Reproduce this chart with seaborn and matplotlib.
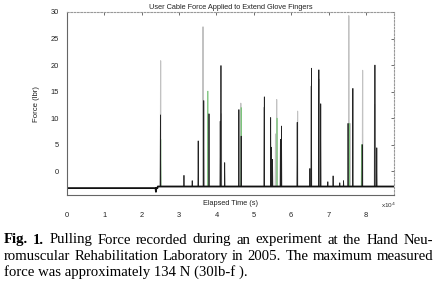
import numpy as np
import pandas as pd
import seaborn as sns
import matplotlib
matplotlib.use("Agg")
import matplotlib.pyplot as plt

# ---------------- data (time in units of 10^4 s, force in lbf) ----------------
title = "User Cable Force Applied to Extend Glove Fingers"
x_label = "Elapsed Time (s)"
y_label = "Force (lbr)"
x_ticks = [0, 1, 2, 3, 4, 5, 6, 7, 8]
y_ticks = [0, 5, 10, 15, 20, 25, 30]

baseline_pre = -3.2      # before the glove was loaded
baseline_post = -2.9     # after
step_time = 2.42
dip_time = 2.38
dip_value = -3.9

black_times = [2.50, 3.13, 3.35, 3.51, 3.66, 3.80, 4.10, 4.12, 4.22, 4.60, 4.66,
               5.28, 5.45, 5.47, 5.50, 5.71, 5.74, 6.16, 6.50, 6.54, 6.74, 6.79,
               6.98, 7.12, 7.30, 7.40, 7.52, 7.65, 7.90, 8.24, 8.29]
black_peaks = [10.6, -0.8, -1.8, 5.7, 13.3, 10.8, 9.4, 19.9, 1.6, 11.6, 6.6,
               14.0, 10.1, 4.5, 2.2, 6.0, 8.5, 9.2, 0.5, 19.4, 19.1, 12.7,
               -2.0, -0.9, -2.2, -1.8, 9.0, 15.6, 5.0, 20.0, 4.4]

gray_times = [2.505, 3.64, 3.78, 4.13, 4.65, 5.27, 5.58, 5.61, 6.17, 6.53, 6.75,
              7.54, 7.57, 7.91, 8.23]
gray_peaks = [20.8, 27.2, 10.8, 10.8, 12.8, 12.0, 7.0, 13.5, 11.3, 16.0, 17.3,
              29.3, 9.0, 19.0, 12.6]

green_times = [2.51, 3.77, 4.66, 5.62, 7.55, 7.88]
green_peaks = [6.0, 15.1, 12.0, 10.0, 9.0, 5.0]

caption_bold = "Fig. 1."
caption_line1 = "Pulling Force recorded during an experiment at the Hand Neu-"
caption_line2 = "romuscular Rehabilitation Laboratory in 2005. The maximum measured"
caption_line3 = "force was approximately 134 N (30lb-f )."


def spike_trace(times, peaks, base, half_width=0.008):
    xs, ys = [], []
    for t, p in sorted(zip(times, peaks)):
        xs += [t - half_width, t, t + half_width]
        b = base(t)
        ys += [b, p, b]
    return pd.DataFrame({"t": xs, "f": ys})


def base_level(t):
    return baseline_pre if t < step_time else baseline_post


black_df = spike_trace(black_times, black_peaks, base_level)
base_df = pd.DataFrame({"t": [0.0, dip_time - 0.01, dip_time, dip_time + 0.01,
                              step_time, step_time + 0.01, 8.75],
                        "f": [baseline_pre, baseline_pre, dip_value, baseline_pre,
                              baseline_pre, baseline_post, baseline_post]})
gray_df = spike_trace(gray_times, gray_peaks, base_level)
green_df = spike_trace(green_times, green_peaks, base_level)

# ---------------- figure ----------------
sns.set_theme(style="white")
plt.rcParams["font.family"] = ["Liberation Sans", "DejaVu Sans"]

fig = plt.figure(figsize=(4.37, 2.90), dpi=100)
ax = fig.add_axes([67 / 437, 1 - 195 / 290, (394 - 67) / 437, (195 - 12) / 290])

sns.lineplot(data=gray_df, x="t", y="f", ax=ax, color="#c2c2c2", lw=0.8,
             estimator=None, sort=False)
sns.lineplot(data=green_df, x="t", y="f", ax=ax, color="#7cc47c", lw=0.5,
             estimator=None, sort=False)
sns.lineplot(data=black_df, x="t", y="f", ax=ax, color="#222222", lw=0.55,
             estimator=None, sort=False)
sns.lineplot(data=base_df, x="t", y="f", ax=ax, color="#111111", lw=1.3,
             estimator=None, sort=False)

ax.set_xlim(0, 8.75)
ax.set_ylim(-4.5, 30)
ax.set_xticks(x_ticks)
ax.set_yticks(y_ticks)
ax.set_xticklabels([str(v) for v in x_ticks])
ax.set_yticklabels([str(v) for v in y_ticks])
ax.tick_params(axis="both", direction="in", length=2.5, width=0.6,
               colors="#555555", labelcolor="#222222", labelsize=5.4,
               top=True, right=True)
ax.tick_params(axis="x", pad=12)
ax.tick_params(axis="y", pad=6)

for s in ["left", "bottom"]:
    ax.spines[s].set_color("#666666")
    ax.spines[s].set_linewidth(0.8)
for s in ["top", "right"]:
    ax.spines[s].set_color("#999999")
    ax.spines[s].set_linewidth(0.8)
    ax.spines[s].set_linestyle((0, (1.5, 1.5)))

ax.set_title(title, fontsize=5.3, color="#222222", pad=2.5)
ax.set_xlabel(x_label, fontsize=5.3, color="#222222")
ax.xaxis.set_label_coords(0.5, -0.028)
ax.set_ylabel(y_label, fontsize=5.6, color="#222222")
ax.yaxis.set_label_coords(-0.082, 0.5)

fig.text(388 / 437, 1 - 205 / 290, r"x10$^{4}$", fontsize=4.6, color="#333333",
         ha="center", va="center")

# caption (justified between x_left and x_right pixels)
serif = ["Liberation Serif", "DejaVu Serif"]
cap_size = 10.6
x_left, x_right = 4, 433
W = fig.bbox.width
renderer = fig.canvas.get_renderer()


def justified_line(words, y_px, weights):
    texts = []
    total = 0.0
    for w, wt in zip(words, weights):
        t = fig.text(0, 1 - y_px / 290, w, fontsize=cap_size, family=serif,
                     weight=wt, va="baseline", ha="left", color="black")
        bb = t.get_window_extent(renderer=renderer)
        texts.append((t, bb.width))
        total += bb.width
    gap = ((x_right - x_left) * W / 437 - total) / (len(words) - 1)
    x = x_left * W / 437
    for t, w in texts:
        t.set_x(x / W)
        x += w + gap


words1 = ["Fig.", "1."] + caption_line1.split(" ")
weights1 = ["bold", "bold"] + ["normal"] * (len(words1) - 2)
justified_line(words1, 243.5, weights1)
words2 = caption_line2.split(" ")
justified_line(words2, 260, ["normal"] * len(words2))
fig.text(x_left / 437, 1 - 276 / 290, caption_line3, fontsize=cap_size, family=serif,
         va="baseline", ha="left", color="black")

fig.savefig("out.png", dpi=100, facecolor="white")
